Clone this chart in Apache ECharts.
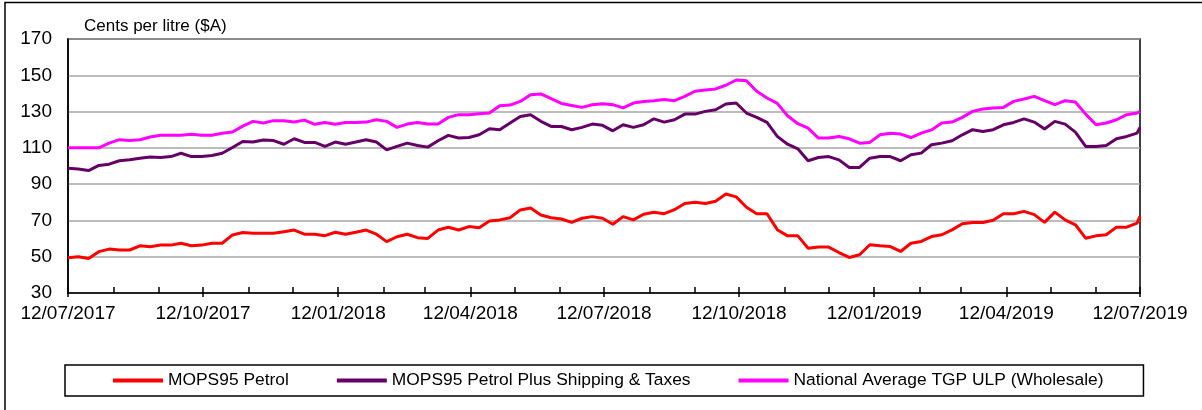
<!DOCTYPE html>
<html>
<head>
<meta charset="utf-8">
<script src="https://cdn.jsdelivr.net/npm/echarts@6/dist/echarts.min.js"></script>
<style>
  html, body { margin: 0; padding: 0; background: #fff; }
  #chart { width: 1202px; height: 410px; }
</style>
</head>
<body>
<div id="chart"></div>
<script>
// weekly readings (Wednesdays) plus the last day shown
var dates = [
  '2017-07-12','2017-07-19','2017-07-26','2017-08-02','2017-08-09','2017-08-16','2017-08-23','2017-08-30',
  '2017-09-06','2017-09-13','2017-09-20','2017-09-27','2017-10-04','2017-10-11','2017-10-18','2017-10-25',
  '2017-11-01','2017-11-08','2017-11-15','2017-11-22','2017-11-29','2017-12-06','2017-12-13','2017-12-20','2017-12-27',
  '2018-01-03','2018-01-10','2018-01-17','2018-01-24','2018-01-31','2018-02-07','2018-02-14','2018-02-21','2018-02-28',
  '2018-03-07','2018-03-14','2018-03-21','2018-03-28','2018-04-04','2018-04-11','2018-04-18','2018-04-25',
  '2018-05-02','2018-05-09','2018-05-16','2018-05-23','2018-05-30','2018-06-06','2018-06-13','2018-06-20','2018-06-27',
  '2018-07-04','2018-07-11','2018-07-18','2018-07-25','2018-08-01','2018-08-08','2018-08-15','2018-08-22','2018-08-29',
  '2018-09-05','2018-09-12','2018-09-19','2018-09-26','2018-10-03','2018-10-10','2018-10-17','2018-10-24','2018-10-31',
  '2018-11-07','2018-11-14','2018-11-21','2018-11-28','2018-12-05','2018-12-12','2018-12-19','2018-12-26',
  '2019-01-02','2019-01-09','2019-01-16','2019-01-23','2019-01-30','2019-02-06','2019-02-13','2019-02-20','2019-02-27',
  '2019-03-06','2019-03-13','2019-03-20','2019-03-27','2019-04-03','2019-04-10','2019-04-17','2019-04-24',
  '2019-05-01','2019-05-08','2019-05-15','2019-05-22','2019-05-29','2019-06-05','2019-06-12','2019-06-19','2019-06-26',
  '2019-07-03','2019-07-10','2019-07-12'
];

// MOPS95 Petrol
var mops95 = [
  49.4, 50, 49, 52.8, 54.2, 53.7, 53.7, 56, 55.5, 56.4, 56.4, 57.4, 56, 56.4, 57.4, 57.4,
  62, 63.3, 62.9, 62.9, 62.9, 63.8, 64.7, 62.4, 62.4,
  61.6, 63.5, 62.4, 63.5, 64.7, 62.4, 58.3, 61, 62.4, 60.5, 60.1, 64.7, 66.2, 64.7, 66.6, 66, 69.7,
  70.3, 71.5, 75.8, 76.8, 73, 71.5, 70.8, 68.9, 71.2, 72.1, 71.2, 67.9, 72.1, 70.3, 73.4, 74.5, 73.7, 75.9,
  79.3, 80, 79.3, 80.6, 84.6, 83, 77.3, 73.7, 73.7, 64.9, 61.5, 61.5, 54.7, 55.3, 55.3, 52.3, 49.6,
  51.1, 56.6, 56, 55.6, 52.9, 57.4, 58.4, 61.1, 62.1, 64.8, 68.2, 68.9, 68.9, 70.1, 73.7, 73.7, 75,
  73.2, 68.9, 74.6, 70.3, 67.6, 60.2, 61.5, 62.1, 66.3, 66.3, 68.5, 72.2
];

// MOPS95 Petrol Plus Shipping & Taxes
var mopsPlus = [
  98.8, 98.4, 97.5, 100.3, 101, 102.9, 103.4, 104.3, 104.9, 104.7, 105.2, 107, 105.2, 105.2, 105.8, 107,
  110.2, 113.5, 113.2, 114.3, 114, 112, 115, 113, 113,
  110.8, 113.2, 112, 113.2, 114.5, 113.2, 108.9, 110.8, 112.6, 111.3, 110.4, 113.9, 116.9, 115.4, 115.7, 117.2, 120.5,
  120, 123.7, 127.3, 128.3, 124.6, 121.8, 121.8, 120, 121.3, 123.1, 122.4, 119.4, 122.7, 121.3, 122.7, 126, 124.2, 125.5,
  128.6, 128.6, 130.1, 131, 134.2, 134.7, 129.2, 126.8, 124, 116.3, 112, 109.5, 102.9, 104.7, 105.2, 103.4, 99.2,
  99.2, 104.3, 105.2, 105.2, 102.9, 106.2, 107.1, 111.7, 112.6, 113.9, 117.2, 120, 119, 120, 122.7, 124, 126,
  124.2, 120.4, 124.6, 123.1, 118.7, 110.8, 110.8, 111.3, 115, 116.3, 118.1, 121.3
];

// National Average TGP ULP (Wholesale)
var tgpUlp = [
  110, 110, 110, 110, 112.6, 114.5, 114, 114.5, 116, 117, 117, 117, 117.5, 117, 117, 118,
  118.7, 122, 124.6, 123.7, 125, 125, 124.2, 125.3, 123,
  124, 123, 124, 124, 124.2, 125.5, 124.6, 121.3, 123.1, 124, 123.1, 123.1, 126.8, 128.3, 128.3, 128.8, 129.2,
  133.2, 133.6, 135.6, 139.3, 139.7, 137.1, 134.5, 133.4, 132.3, 133.8, 134.3, 133.8, 132, 134.7, 135.6, 136, 136.6, 136,
  138.4, 141.2, 141.9, 142.5, 144.5, 147.4, 147, 141.2, 137.5, 134.5, 127.7, 123.3, 120.9, 115.4, 115.4, 116.3, 115,
  112.6, 113, 117.2, 118.1, 117.6, 115.7, 118.1, 119.9, 123.7, 124.2, 126.8, 130.1, 131.4, 132, 132.3, 135.6, 136.9,
  138.4, 136, 133.8, 136, 135.3, 128.6, 122.7, 123.7, 125.5, 128.3, 129.2, 130.1
];

var seriesNames = ['MOPS95 Petrol', 'MOPS95 Petrol Plus Shipping & Taxes', 'National Average TGP ULP (Wholesale)'];

// labelled ticks every 3 months, small ticks every month
var majorTicks = ['2017-07-12','2017-10-12','2018-01-12','2018-04-12','2018-07-12','2018-10-12','2019-01-12','2019-04-12','2019-07-12'];
var monthTicks = [
  '2017-07-12','2017-08-12','2017-09-12','2017-10-12','2017-11-12','2017-12-12',
  '2018-01-12','2018-02-12','2018-03-12','2018-04-12','2018-05-12','2018-06-12',
  '2018-07-12','2018-08-12','2018-09-12','2018-10-12','2018-11-12','2018-12-12',
  '2019-01-12','2019-02-12','2019-03-12','2019-04-12','2019-05-12','2019-06-12','2019-07-12'
];

var yMin = 30, yMax = 170, yStep = 20;

// dates are kept as millisecond values on a plain value axis
function toTime (s) {
  var p = s.split('-');
  return Date.UTC(+p[0], +p[1] - 1, +p[2]);
}
function pad (n) { return n < 10 ? '0' + n : '' + n; }
function fmtDate (v) {
  var d = new Date(v);
  return pad(d.getUTCDate()) + '/' + pad(d.getUTCMonth() + 1) + '/' + d.getUTCFullYear();
}
function pairs (values) {
  return dates.map(function (d, i) { return [toTime(d), values[i]]; });
}

var font = 'Liberation Sans, Arial, sans-serif';
var xMin = toTime(dates[0]);
var xMax = toTime(dates[dates.length - 1]);

var chart = echarts.init(document.getElementById('chart'), null, { renderer: 'canvas' });

chart.setOption({
  animation: false,
  backgroundColor: '#fff',
  textStyle: { fontFamily: font },
  graphic: [
    // outer frame of the figure
    {
      type: 'rect',
      shape: { x: 5, y: 2.5, width: 1300, height: 500 },
      style: { fill: 'none', stroke: '#000', lineWidth: 1.5 },
      silent: true
    },
    {
      type: 'text',
      left: 84,
      top: 18,
      style: { text: 'Cents per litre ($A)', fontSize: 17, fontFamily: font, fill: '#000' }
    }
  ],
  grid: {
    left: 68,
    top: 39,
    right: 62,
    bottom: 117,
    show: true,
    borderColor: '#000',
    borderWidth: 1.5
  },
  legend: {
    left: 65,
    top: 365,
    padding: [7, 40, 7, 48],
    borderColor: '#000',
    borderWidth: 1.5,
    icon: 'rect',
    itemWidth: 50,
    itemHeight: 4,
    itemGap: 48,
    textStyle: { fontSize: 17.4, color: '#000', fontFamily: font },
    data: seriesNames
  },
  xAxis: [
    {
      type: 'value',
      min: xMin,
      max: xMax,
      axisLine: { show: true, lineStyle: { color: '#000', width: 1.5 } },
      axisTick: {
        show: true,
        inside: false,
        length: 4,
        customValues: majorTicks.map(toTime),
        lineStyle: { color: '#000', width: 1.5 }
      },
      axisLabel: {
        customValues: majorTicks.map(toTime),
        formatter: fmtDate,
        fontSize: 19,
        color: '#000',
        margin: 11,
        fontFamily: font
      },
      splitLine: { show: false }
    },
    {
      type: 'value',
      min: xMin,
      max: xMax,
      position: 'bottom',
      axisLine: { show: false },
      axisTick: {
        show: true,
        inside: true,
        length: 6,
        customValues: monthTicks.map(toTime),
        lineStyle: { color: '#000', width: 1.5 }
      },
      axisLabel: { show: false },
      splitLine: { show: false }
    }
  ],
  yAxis: {
    type: 'value',
    min: yMin,
    max: yMax,
    interval: yStep,
    axisLine: { show: true, lineStyle: { color: '#000', width: 1.5 } },
    axisTick: { show: false },
    axisLabel: { fontSize: 19, color: '#000', margin: 16, fontFamily: font },
    splitLine: { show: true, lineStyle: { color: '#a6a6a6', width: 1.5 } }
  },
  series: [
    {
      name: seriesNames[0],
      type: 'line',
      symbol: 'none',
      color: '#ff0000',
      lineStyle: { color: '#ff0000', width: 3 },
      data: pairs(mops95)
    },
    {
      name: seriesNames[1],
      type: 'line',
      symbol: 'none',
      color: '#660066',
      lineStyle: { color: '#660066', width: 3 },
      data: pairs(mopsPlus)
    },
    {
      name: seriesNames[2],
      type: 'line',
      symbol: 'none',
      color: '#ff00ff',
      lineStyle: { color: '#ff00ff', width: 3 },
      data: pairs(tgpUlp)
    }
  ]
});
</script>
</body>
</html>
